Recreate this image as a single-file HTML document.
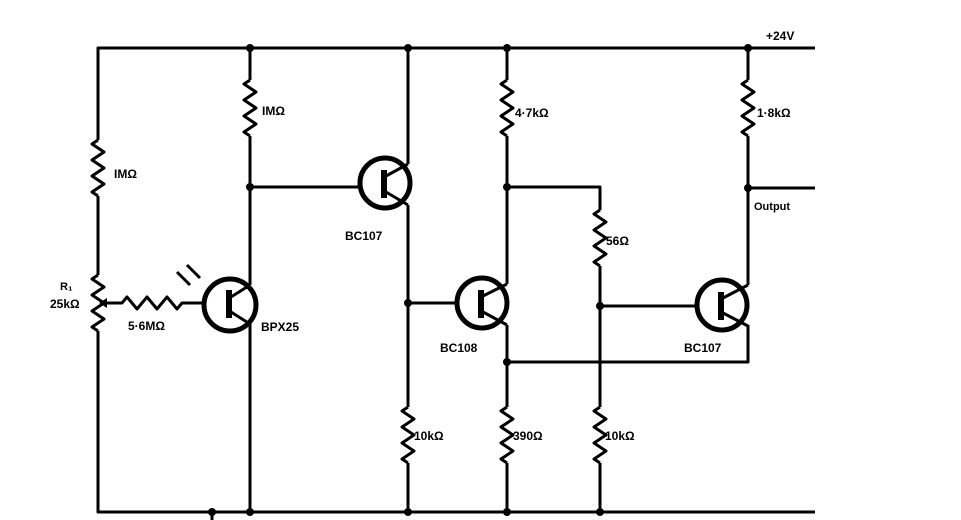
<!DOCTYPE html>
<html><head><meta charset="utf-8"><style>
html,body{margin:0;padding:0;background:#fff;}
svg{display:block}
text{font-family:"Liberation Sans",sans-serif;font-weight:bold;fill:#000;font-size:12px}
</style></head><body>
<svg width="961" height="520" viewBox="0 0 961 520" xmlns="http://www.w3.org/2000/svg">
<g stroke="#000" stroke-width="3" fill="none" stroke-linejoin="round">
<!-- rails -->
<path d="M98 140 V48 H815"/>
<path d="M98 331 V512 H815"/>
<path d="M98 196 V275"/>
<path d="M212 512 V520"/>
<!-- left 1M resistor -->
<path d="M98 140 l-6 4 l12 8 l-12 8 l12 8 l-12 8 l12 8 l-12 8 l6 4"/>
<!-- pot -->
<path d="M98 275 l-6 4 l12 8 l-12 8 l12 8 l-12 8 l12 8 l-12 8 l6 4"/>
<path d="M106 303 H122 l5 -6 l10 12 l10 -12 l10 12 l10 -12 l10 12 l5 -6 H204"/>
<!-- BPX25 -->
<circle cx="230" cy="305" r="26" stroke-width="5"/>
<path d="M229 290 V318" stroke-width="6"/>
<path d="M231 297 L250 285 M231 312 L250 324"/>
<path d="M250 48 V80 M250 136 V285 M250 324 V512"/>
<path d="M250 80 l-6 4 l12 8 l-12 8 l12 8 l-12 8 l12 8 l-12 8 l6 4"/>
<path d="M250 187 H360"/>
<path d="M177 272 l13 13 M187 265 l13 13"/>
<!-- BC107 -->
<circle cx="385" cy="183" r="25" stroke-width="5"/>
<path d="M384 170 V198" stroke-width="6"/>
<path d="M386 176 L408 164 M386 192 L408 205"/>
<path d="M408 48 V164 M408 205 V407 M408 463 V512"/>
<path d="M408 407 l-6 4 l12 8 l-12 8 l12 8 l-12 8 l12 8 l-12 8 l6 4"/>
<path d="M408 303 H457"/>
<!-- BC108 -->
<circle cx="482" cy="303" r="25" stroke-width="5"/>
<path d="M481 290 V318" stroke-width="6"/>
<path d="M483 296 L507 284 M483 312 L507 325"/>
<path d="M507 48 V80 M507 136 V284 M507 325 V407 M507 463 V512"/>
<path d="M507 80 l-6 4 l12 8 l-12 8 l12 8 l-12 8 l12 8 l-12 8 l6 4"/>
<path d="M507 407 l-6 4 l12 8 l-12 8 l12 8 l-12 8 l12 8 l-12 8 l6 4"/>
<path d="M507 187 H600 V210 M600 266 V407 M600 463 V512"/>
<path d="M600 210 l-6 4 l12 8 l-12 8 l12 8 l-12 8 l12 8 l-12 8 l6 4"/>
<path d="M600 407 l-6 4 l12 8 l-12 8 l12 8 l-12 8 l12 8 l-12 8 l6 4"/>
<path d="M600 306 H697"/>
<path d="M507 362 H748 V325"/>
<!-- right BC107 -->
<circle cx="722" cy="305" r="25" stroke-width="5"/>
<path d="M721 292 V320" stroke-width="6"/>
<path d="M723 298 L748 285 M723 313 L748 326"/>
<path d="M748 48 V80 M748 136 V285"/>
<path d="M748 80 l-6 4 l12 8 l-12 8 l12 8 l-12 8 l12 8 l-12 8 l6 4"/>
<path d="M748 188 H815"/>
</g>
<g fill="#000">
<circle cx="250" cy="48" r="4"/><circle cx="408" cy="48" r="4"/><circle cx="507" cy="48" r="4"/><circle cx="748" cy="48" r="4"/>
<circle cx="250" cy="187" r="4"/><circle cx="507" cy="187" r="4"/><circle cx="748" cy="188" r="4"/>
<circle cx="408" cy="303" r="4"/><circle cx="600" cy="306" r="4"/><circle cx="507" cy="362" r="4"/>
<circle cx="212" cy="512" r="4"/><circle cx="250" cy="512" r="4"/><circle cx="408" cy="512" r="4"/><circle cx="507" cy="512" r="4"/><circle cx="600" cy="512" r="4"/>
<path d="M99 303 l8 -5 v10z"/>
</g>
<text x="766" y="40">+24V</text>
<text x="114" y="178">IMΩ</text>
<text x="262" y="115">IMΩ</text>
<text x="515" y="117">4·7kΩ</text>
<text x="757" y="117">1·8kΩ</text>
<text x="754" y="210" style="font-size:11px">Output</text>
<text x="606" y="245">56Ω</text>
<text x="345" y="240">BC107</text>
<text x="440" y="352">BC108</text>
<text x="684" y="352">BC107</text>
<text x="261" y="331">BPX25</text>
<text x="128" y="330">5·6MΩ</text>
<text x="60" y="290" style="font-size:11px">R₁</text>
<text x="50" y="308">25kΩ</text>
<text x="414" y="440">10kΩ</text>
<text x="513" y="440">390Ω</text>
<text x="605" y="440">10kΩ</text>
</svg>
</body></html>
